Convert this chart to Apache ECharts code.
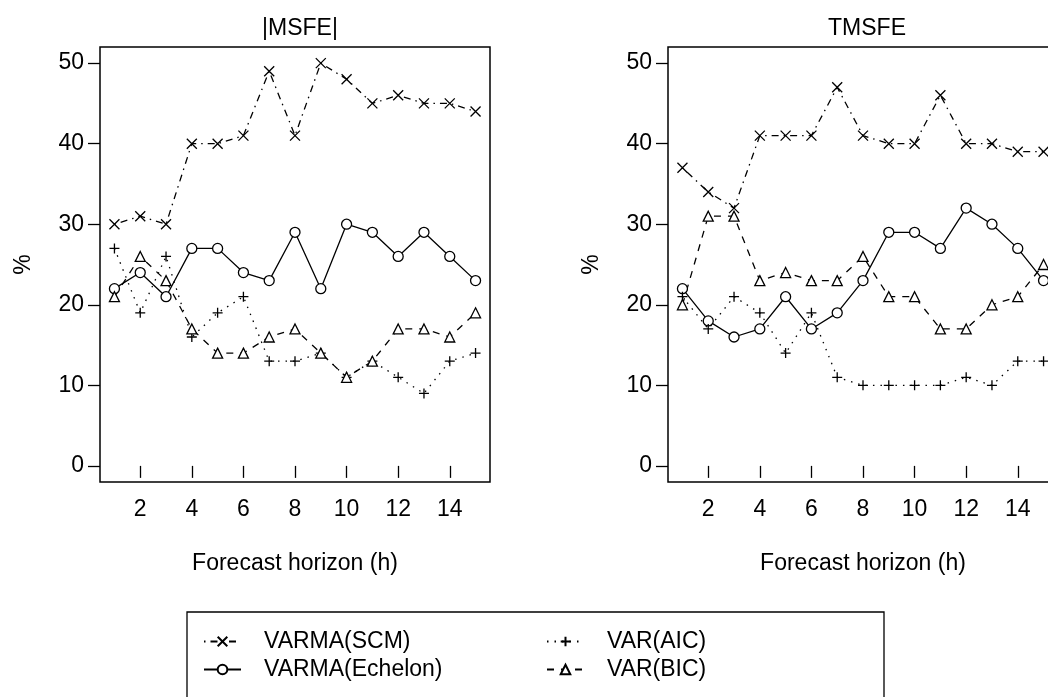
<!DOCTYPE html>
<html>
<head>
<meta charset="utf-8">
<title>MSFE / TMSFE</title>
<script src="https://cdn.jsdelivr.net/npm/echarts@6/dist/echarts.min.js"></script>
<style>
html,body{margin:0;padding:0;background:#fff;}
#main{width:1048px;height:697px;}
</style>
</head>
<body>
<div id="main"></div>
<script>
// data
var horizons=[1,2,3,4,5,6,7,8,9,10,11,12,13,14,15];
var xTicks=[2,4,6,8,10,12,14];
var yTicks=[0,10,20,30,40,50];
var panelTitles=['|MSFE|','TMSFE'];
var seriesNames=['VARMA(SCM)','VARMA(Echelon)','VAR(AIC)','VAR(BIC)'];

var msfeScm=[30,31,30,40,40,41,49,41,50,48,45,46,45,45,44];
var msfeEchelon=[22,24,21,27,27,24,23,29,22,30,29,26,29,26,23];
var msfeAic=[27,19,26,16,19,21,13,13,14,11,13,11,9,13,14];
var msfeBic=[21,26,23,17,14,14,16,17,14,11,13,17,17,16,19];

var tmsfeScm=[37,34,32,41,41,41,47,41,40,40,46,40,40,39,39];
var tmsfeEchelon=[22,18,16,17,21,17,19,23,29,29,27,32,30,27,23];
var tmsfeAic=[21,17,21,19,14,19,11,10,10,10,10,11,10,13,13];
var tmsfeBic=[20,31,31,23,24,23,23,26,21,21,17,17,20,21,25];

var FONT='"Liberation Sans", Arial, Helvetica, sans-serif';

var showChart={
    chart:null,
    // marker + line type per series (R pch / lty look)
    styles:{
        'VARMA(SCM)':{symbol:'path://M0,0L10,10M0,10L10,0',dash:[1.5,5,7,5]},
        'VARMA(Echelon)':{symbol:'circle',dash:'solid'},
        'VAR(AIC)':{symbol:'path://M5,0L5,10M0,5L10,5',dash:[1.5,6]},
        'VAR(BIC)':{symbol:'triangle',dash:[7,7]}
    },
    init:function (id) {
        this.chart=echarts.init(document.getElementById(id));
        return this.chart;
    },
    toPoints:function (values) {
        return horizons.map(function (h,i) { return [h,values[i]]; });
    },
    makeSeries:function (name,values,idx) {
        var st=this.styles[name];
        return {
            name:name,
            type:'line',
            xAxisIndex:idx,
            yAxisIndex:idx,
            data:this.toPoints(values),
            symbol:st.symbol,
            symbolSize:10,
            showAllSymbol:true,
            lineStyle:{color:'#000',width:1.3,type:st.dash},
            itemStyle:{color:'#fff',borderColor:'#000',borderWidth:1.3},
            emphasis:{disabled:true}
        };
    },
    makeGrid:function (left) {
        // the right panel runs past the page edge, as in the original
        return {left:left,top:47,width:390,height:435,show:true,
            outerBoundsMode:'none',containLabel:false,
            borderColor:'#000',borderWidth:1.5,backgroundColor:'transparent'};
    },
    makeXAxis:function (idx) {
        return {
            type:'value',gridIndex:idx,min:0.44,max:15.56,
            name:'Forecast horizon (h)',nameLocation:'middle',nameGap:70,
            nameTextStyle:{fontSize:23,color:'#000',fontFamily:FONT},
            axisLine:{show:false},splitLine:{show:false},
            axisTick:{customValues:xTicks,length:12,lineStyle:{color:'#000',width:1.3}},
            axisLabel:{customValues:xTicks,margin:16,fontSize:23,color:'#000',fontFamily:FONT}
        };
    },
    makeYAxis:function (idx) {
        return {
            type:'value',gridIndex:idx,min:-2,max:52,
            name:'%',nameLocation:'middle',nameRotate:90,nameGap:65,
            nameTextStyle:{fontSize:23,color:'#000',fontFamily:FONT},
            axisLine:{show:false},splitLine:{show:false},
            axisTick:{customValues:yTicks,length:12,lineStyle:{color:'#000',width:1.3}},
            axisLabel:{customValues:yTicks,margin:16,fontSize:23,color:'#000',fontFamily:FONT}
        };
    },
    getOption:function () {
        var self=this;
        var panels=[[msfeScm,msfeEchelon,msfeAic,msfeBic],[tmsfeScm,tmsfeEchelon,tmsfeAic,tmsfeBic]];
        var series=[];
        panels.forEach(function (vals,p) {
            seriesNames.forEach(function (n,k) {
                series.push(self.makeSeries(n,vals[k],p));
            });
        });
        var titleStyle={fontSize:23,fontWeight:'normal',color:'#000',fontFamily:FONT};
        return {
            backgroundColor:'#fff',
            animation:false,
            title:[
                {text:panelTitles[0],left:295,top:12,textAlign:'center',textStyle:titleStyle},
                {text:panelTitles[1],left:862,top:12,textAlign:'center',textStyle:titleStyle}
            ],
            grid:[this.makeGrid(100),this.makeGrid(668)],
            xAxis:[this.makeXAxis(0),this.makeXAxis(1)],
            yAxis:[this.makeYAxis(0),this.makeYAxis(1)],
            legend:{
                // column-wise order like R's ncol=2
                data:[seriesNames[0],seriesNames[2],seriesNames[1],seriesNames[3]],
                orient:'horizontal',left:187,top:612,width:740,
                padding:[18,0,40,16],itemGap:5,
                itemWidth:37,itemHeight:12,
                borderColor:'#000',borderWidth:1.3,
                selectedMode:false,
                textStyle:{fontSize:23,color:'#000',fontFamily:FONT,
                    width:277,lineHeight:23,overflow:'truncate',padding:[0,0,0,18]}
            },
            series:series
        };
    },
    render:function (id) {
        this.init(id);
        if(this.chart)
            this.chart.setOption(this.getOption());
    }
};

showChart.render('main');
</script>
</body>
</html>
